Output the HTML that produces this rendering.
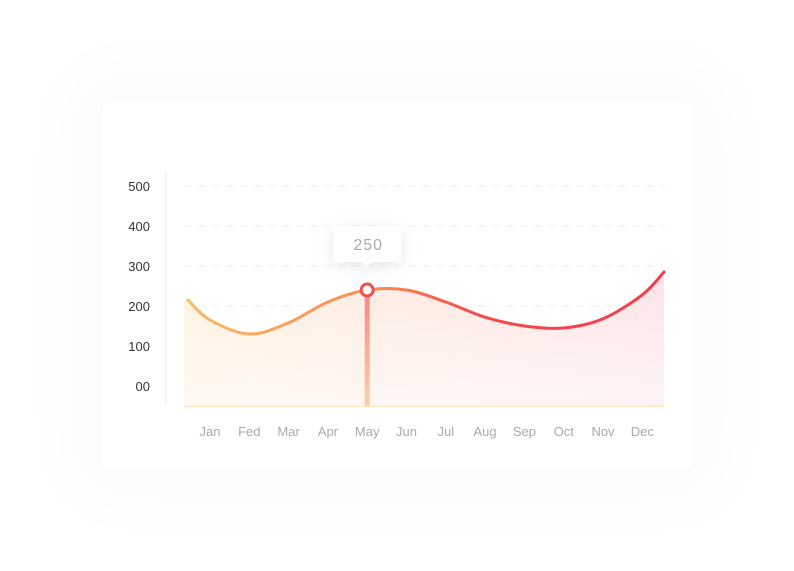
<!DOCTYPE html>
<html><head><meta charset="utf-8"><style>
body{margin:0;width:794px;height:571px;background:#fff;overflow:hidden;font-family:"Liberation Sans",sans-serif}
#card{position:absolute;left:102px;top:102px;width:590px;height:366px;background:#fff;border-radius:6px;box-shadow:0 0 70px 30px rgba(0,0,0,0.025)}
svg{position:absolute;left:0;top:0}
</style></head><body>
<div id="card"></div>
<svg id="chart" width="794" height="571">
<defs>
<linearGradient id="lg" x1="0" x2="1" y1="0" y2="0"><stop offset="0" stop-color="#fbb862"/><stop offset="0.4" stop-color="#fb8a55"/><stop offset="0.6" stop-color="#f54a4c"/><stop offset="1" stop-color="#f53a4b"/></linearGradient>
<linearGradient id="ag" x1="0" x2="1" y1="0" y2="0"><stop offset="0" stop-color="#fff1e0"/><stop offset="1" stop-color="#fde3e6"/></linearGradient>
<linearGradient id="fade" x1="0" x2="0" y1="0" y2="1"><stop offset="0" stop-color="#fff" stop-opacity="0"/><stop offset="1" stop-color="#fff" stop-opacity="0.6"/></linearGradient>
<linearGradient id="sg" x1="0" x2="0" y1="0" y2="1"><stop offset="0" stop-color="#f8868a"/><stop offset="1" stop-color="#fdd0a2"/></linearGradient>
<filter id="sh" x="-50%" y="-50%" width="200%" height="200%"><feDropShadow dx="0" dy="4" stdDeviation="8" flood-color="#8090b0" flood-opacity="0.2"/></filter>
</defs>
</svg>
<script>
const months=["Jan","Fed","Mar","Apr","May","Jun","Jul","Aug","Sep","Oct","Nov","Dec"];
const values=[165,130,158,210,240,240,210,172,150,145,168,228];
const startValue=215, endValue=285;
const yTicks=[500,400,300,200,100,0];
const yTickLabels=["500","400","300","200","100","00"];
const tipIndex=4, tipLabel="250";

const NS="http://www.w3.org/2000/svg";
const svg=document.getElementById('chart');
const x0=210, dx=39.3, leftX=188, rightX=664;
const xs=i=>x0+i*dx;
const ys=v=>386-v*0.4;
function mk(t,a,p){const e=document.createElementNS(NS,t);for(const k in a)e.setAttribute(k,a[k]);(p||svg).appendChild(e);return e;}

yTicks.forEach((v,i)=>{
 const g=mk('line',{x1:184,x2:665,y1:ys(v),y2:ys(v),stroke:'#fdeedd','stroke-width':1,'stroke-dasharray':'8 6'});
 
 
 const t=mk('text',{x:150,y:ys(v)+5,'text-anchor':'end','font-size':13,fill:'#333'});
 t.textContent=yTickLabels[i];
 
 
});
const ya=mk('line',{x1:165.5,x2:165.5,y1:172,y2:404,stroke:'#fdecd8','stroke-width':1});



const pts=[[leftX,ys(startValue)]].concat(values.map((v,i)=>[xs(i),ys(v)])).concat([[rightX,ys(endValue)]]);
function smooth(p){let d=`M${p[0][0]},${p[0][1]}`;for(let i=0;i<p.length-1;i++){const a=p[i-1]||p[i],b=p[i],c=p[i+1],e=p[i+2]||c;
 const c1=[b[0]+(c[0]-a[0])/6,b[1]+(c[1]-a[1])/6],c2=[c[0]-(e[0]-b[0])/6,c[1]-(e[1]-b[1])/6];
 d+=` C${c1[0]},${c1[1]} ${c2[0]},${c2[1]} ${c[0]},${c[1]}`;}return d;}
const line=smooth(pts);
const area=mk('path',{d:line+` L${rightX},406 L184,406 L184,${pts[0][1]} Z`,fill:'url(#ag)'});


mk('path',{d:line+` L${rightX},406 L184,406 L184,${pts[0][1]} Z`,fill:'url(#fade)'});
const base=mk('line',{x1:184,x2:665,y1:406.5,y2:406.5,stroke:'#fde0bd','stroke-width':1});


const lp=mk('path',{d:line,fill:'none',stroke:'url(#lg)','stroke-width':3,'stroke-linecap':'round'});



months.forEach((m,i)=>{
 const t=mk('text',{x:xs(i),y:436,'text-anchor':'middle','font-size':13,fill:'#aaa'});
 t.textContent=m;
 
 
});

const tx=xs(tipIndex), ty=ys(values[tipIndex]);
const stem=mk('rect',{x:tx-2.5,y:ty,width:5,height:406-ty,fill:'url(#sg)'});


const c=mk('circle',{cx:tx,cy:ty,r:6,fill:'#fff',stroke:'#f0504a','stroke-width':3});


const tg=mk('g',{filter:'url(#sh)'});


mk('path',{d:`M${tx-32},226 h64 a2,2 0 0 1 2,2 v32 a2,2 0 0 1 -2,2 h-27 l-5,6 l-5,-6 h-27 a2,2 0 0 1 -2,-2 v-32 a2,2 0 0 1 2,-2 z`,fill:'#fff'},tg);
const tt=mk('text',{x:tx+1,y:250,'text-anchor':'middle','font-size':16,fill:'#aaa','letter-spacing':1});
tt.textContent=tipLabel;


</script>
</body></html>
